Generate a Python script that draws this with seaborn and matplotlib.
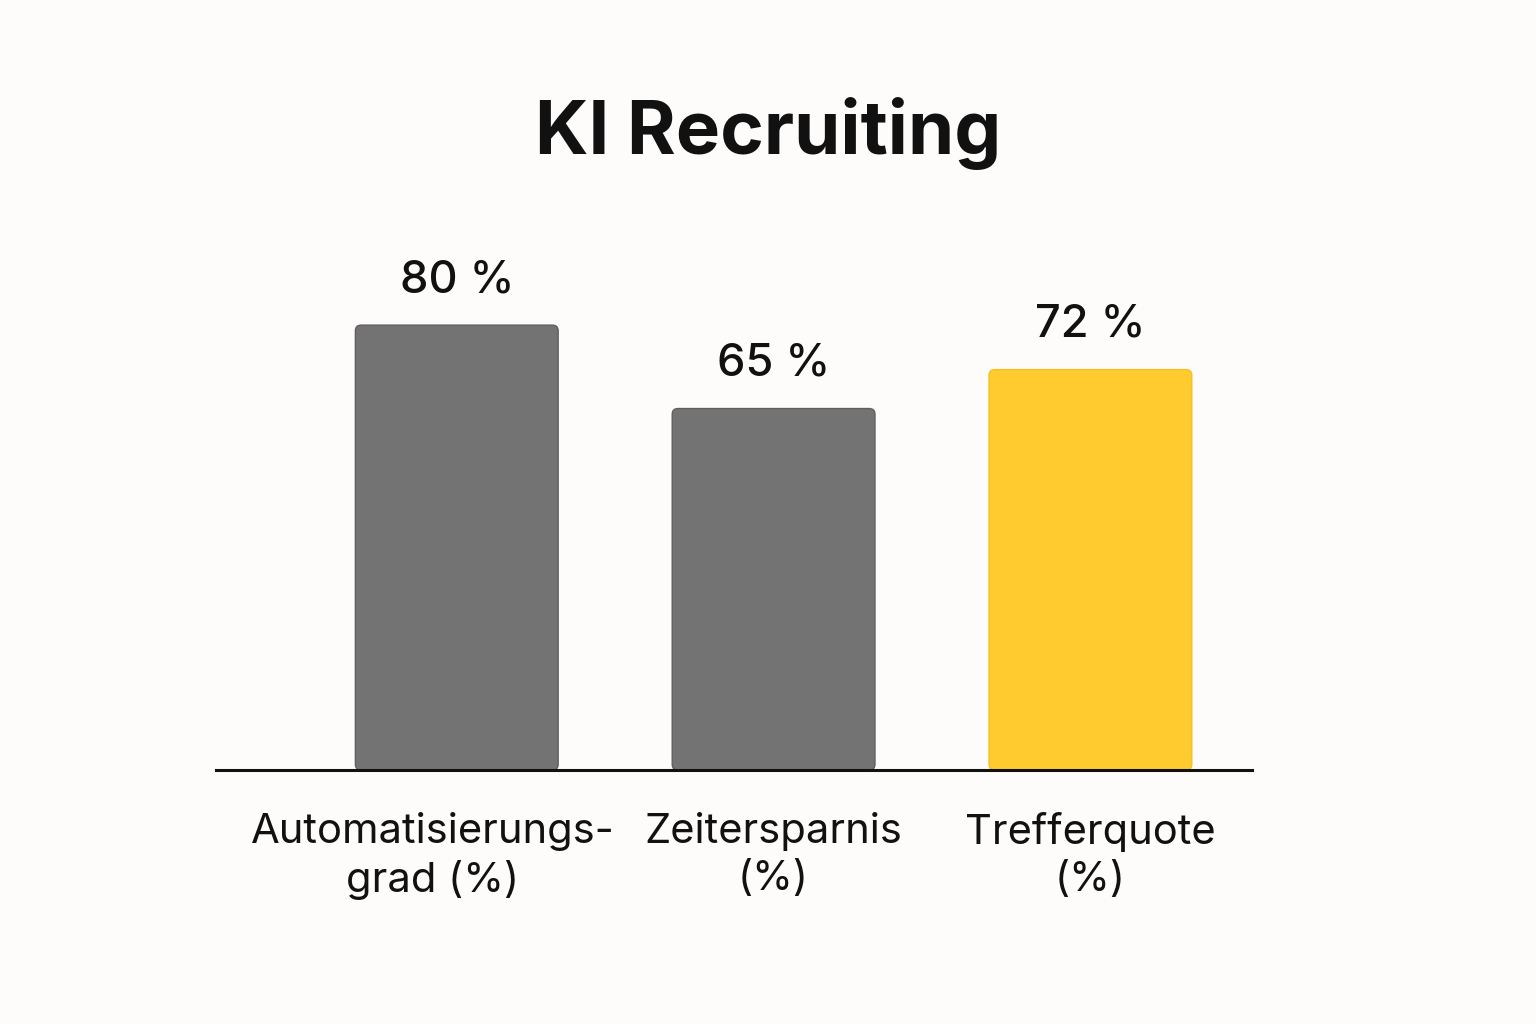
import numpy as np
import pandas as pd
import seaborn as sns
import matplotlib.pyplot as plt
import matplotlib.transforms as mtransforms
from matplotlib.patches import FancyBboxPatch

categories = ["Automatisierungs-\ngrad (%)", "Zeitersparnis\n(%)", "Trefferquote\n(%)"]
values = [80, 65, 72]
value_labels = ["80 %", "65 %", "72 %"]
bar_colors = ["#737373", "#737373", "#FFCB2E"]
edge_colors = ["#5f5f5f", "#5f5f5f", "#F5C020"]

df = pd.DataFrame({"Kategorie": categories, "Wert": values})

sns.set_theme(style="white")
plt.rcParams["font.family"] = ["Inter", "DejaVu Sans"]

bg = "#FDFCFA"
fig = plt.figure(figsize=(15.36, 10.24), dpi=100, facecolor=bg)
ax = fig.add_axes([216 / 1536, 1 - 770 / 1024, (1252 - 216) / 1536, 570 / 1024])
ax.set_facecolor(bg)

sns.barplot(data=df, x="Kategorie", y="Wert", hue="Kategorie", palette=bar_colors,
            width=0.64, legend=False, ax=ax, saturation=1)

ax.set_xlim(-0.76, 2.51)
ax.set_ylim(0, 102.5)

# swap the plain rectangles for slightly rounded ones
for patch, fc, ec in zip(list(ax.patches), bar_colors, edge_colors):
    x, y = patch.get_x(), patch.get_y()
    w, h = patch.get_width(), patch.get_height()
    patch.set_visible(False)
    rb = FancyBboxPatch((x, y), w, h, boxstyle="round,pad=0,rounding_size=0.018",
                        mutation_aspect=57, facecolor=fc, edgecolor=ec, linewidth=1.0,
                        zorder=2)
    ax.add_patch(rb)

for i, (v, lab) in enumerate(zip(values, value_labels)):
    ax.annotate(lab, (i, v), xytext=(0, 17), textcoords="offset points",
                ha="center", va="bottom", fontsize=32.5, fontweight="medium",
                color="#111111")

ax.set_xlabel("")
ax.set_ylabel("")
ax.set_yticks([])
ax.tick_params(axis="x", length=0, pad=30, labelsize=30, labelcolor="#111111")
for t in ax.get_xticklabels():
    t.set_linespacing(1.3)
# first label sits a little left of its bar in the original
first = ax.get_xticklabels()[0]
first.set_transform(first.get_transform() +
                    mtransforms.ScaledTranslation(-24 / 100, 0, fig.dpi_scale_trans))
for s in ["top", "right", "left"]:
    ax.spines[s].set_visible(False)
ax.spines["bottom"].set_color("#111111")
ax.spines["bottom"].set_linewidth(2.2)
ax.spines["bottom"].set_zorder(3)

fig.text(0.5, 1 - 133 / 1024, "KI Recruiting", ha="center", va="center",
         fontsize=53.5, fontweight="bold", color="#111111")

fig.savefig("out.png", dpi=100, facecolor=bg)
